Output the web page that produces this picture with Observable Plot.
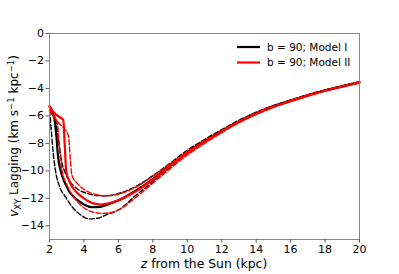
<!DOCTYPE html>
<html><head><meta charset="utf-8">
<script src="https://cdn.jsdelivr.net/npm/d3@7"></script>
<script src="https://cdn.jsdelivr.net/npm/@observablehq/plot@0.6"></script>
<style>body{margin:0;background:#fff}</style>
</head><body><div id="chart"></div>
<script>
const xTicks = [2,4,6,8,10,12,14,16,18,20];
const yTicks = [0,-2,-4,-6,-8,-10,-12,-14];
const legendLabels = ["b = 90; Model I", "b = 90; Model II"];

// Model I (black)
const zI   = [2.0,2.2,2.3,2.4,2.5,2.65,2.9,3.2,3.6,4.0,4.5,5.0,5.5,6.0,7.0,8.0,9.0,10,11,12,13,14,15,16,17,18,19,20];
const vI   = [-5.3,-5.9,-6.3,-7.5,-9.0,-10.0,-10.9,-11.6,-12.1,-12.45,-12.65,-12.6,-12.4,-12.15,-11.45,-10.6,-9.6,-8.65,-7.85,-7.1,-6.4,-5.8,-5.3,-4.9,-4.5,-4.15,-3.85,-3.55];
const zIlo = [2.0,2.1,2.2,2.35,2.6,2.93,3.3,3.8,4.3,4.8,5.3,6.0,7.0,8.0,9.0,10,11,12,13,14,15,16,17,18,19,20];
const vIlo = [-5.6,-7.0,-8.5,-10.0,-11.2,-11.9,-12.6,-13.2,-13.5,-13.45,-13.2,-12.85,-11.8,-10.8,-9.75,-8.75,-7.95,-7.15,-6.45,-5.85,-5.35,-4.92,-4.52,-4.17,-3.87,-3.57];
const zIhi = [2.0,2.2,2.35,2.5,2.7,2.9,3.2,3.6,4.2,4.8,5.3,6.0,7.0,8.0,9.0,10,11,12,13,14,15,16,17,18,19,20];
const vIhi = [-5.3,-5.7,-6.3,-7.5,-9.3,-10.1,-10.8,-11.3,-11.65,-11.8,-11.82,-11.65,-11.15,-10.35,-9.45,-8.5,-7.72,-7.0,-6.32,-5.73,-5.24,-4.84,-4.45,-4.1,-3.8,-3.5];
// Model II (red)
const zII   = [2.0,2.3,2.6,2.8,2.88,2.97,3.2,3.6,4.0,4.5,5.0,5.5,6.0,7.0,8.0,9.0,10,11,12,13,14,15,16,17,18,19,20];
const vII   = [-5.3,-5.8,-6.1,-6.3,-8.0,-10.0,-10.9,-11.6,-12.0,-12.35,-12.45,-12.35,-12.15,-11.5,-10.65,-9.65,-8.7,-7.9,-7.15,-6.45,-5.85,-5.33,-4.92,-4.52,-4.17,-3.86,-3.56];
const zIIhi = [2.0,2.3,2.6,2.9,3.1,3.2,3.3,3.6,4.0,4.6,5.2,5.6,6.0,7.0,8.0,9.0,10,11,12,13,14,15,16,17,18,19,20];
const vIIhi = [-5.6,-6.2,-6.6,-7.0,-7.45,-9.0,-10.3,-10.9,-11.35,-11.7,-11.82,-11.8,-11.7,-11.2,-10.4,-9.5,-8.6,-7.8,-7.07,-6.38,-5.78,-5.28,-4.88,-4.48,-4.13,-3.83,-3.53];
const zIIlo = [2.0,2.2,2.45,2.55,2.73,3.0,3.4,3.9,4.5,5.0,5.5,6.0,7.0,8.0,9.0,10,11,12,13,14,15,16,17,18,19,20];
const vIIlo = [-5.4,-5.9,-6.4,-8.0,-10.0,-11.0,-11.9,-12.6,-13.0,-13.1,-13.05,-12.85,-11.95,-10.9,-9.85,-8.85,-8.0,-7.22,-6.5,-5.9,-5.38,-4.96,-4.56,-4.2,-3.9,-3.6];

const series = [
  {key:"Ilo", z:zIlo, v:vIlo, color:"black", dash:true},
  {key:"Ihi", z:zIhi, v:vIhi, color:"black", dash:true},
  {key:"I",   z:zI,   v:vI,   color:"black", dash:false},
  {key:"IIlo",z:zIIlo,v:vIIlo,color:"red",   dash:true},
  {key:"IIhi",z:zIIhi,v:vIIhi,color:"red",   dash:true},
  {key:"II",  z:zII,  v:vII,  color:"red",   dash:false}
];

const lineMarks = series.map(s => {
  const rows = s.z.map((z,i)=>({z, v:s.v[i]}));
  return Plot.line(rows, {x:"z", y:"v", stroke:s.color,
    strokeWidth: s.dash ? 1.4 : 2.2,
    strokeDasharray: s.dash ? "5,2.2" : null,
    curve:"monotone-x"});
});

const legendRows = legendLabels.map((label,i)=>({label, i, color: i===0 ? "black" : "red"}));

const fmt = d => d < 0 ? "\u2212" + (-d) : String(d);

const plot = Plot.plot({
  width: 399, height: 274,
  marginLeft: 49, marginRight: 40, marginTop: 33, marginBottom: 35,
  style: {fontFamily: "DejaVu Sans", fontSize: "11px", color: "black", background: "white"},
  x: {domain:[2,20], ticks: xTicks},
  y: {domain:[-15,0], ticks: yTicks},
  marks: [
    ...lineMarks,
    Plot.frame({stroke:"#888", strokeWidth:1}),
    Plot.axisX({ticks:xTicks, tickSize:3.5, tickPadding:2, tickFormat:fmt, label:null, stroke:"#555", fontSize:11}),
    Plot.axisY({ticks:yTicks, tickSize:3.5, tickPadding:2, tickFormat:fmt, label:null, stroke:"#555", fontSize:11})
  ]
});

const svg = d3.select(plot);
// legend
const lg = svg.append("g").attr("font-family","DejaVu Sans").attr("font-size","10.5px").attr("text-anchor","start");
legendRows.forEach(r => {
  const y = 47 + r.i*15.5;
  lg.append("line").attr("x1",237).attr("x2",260).attr("y1",y).attr("y2",y)
    .attr("stroke",r.color).attr("stroke-width",2.2);
  lg.append("text").attr("x",267).attr("y",y).attr("dy","0.35em").attr("text-anchor","start").attr("fill","black").text(r.label);
});
// x label
const xl = svg.append("text").attr("x",204).attr("y",268).attr("text-anchor","middle")
  .attr("font-family","DejaVu Sans").attr("font-size","12.4px").attr("fill","black");
xl.append("tspan").attr("font-style","italic").text("z");
xl.append("tspan").text(" from the Sun (kpc)");
// y label
const yl = svg.append("text").attr("transform","translate(18,136) rotate(-90)").attr("text-anchor","middle")
  .attr("font-family","DejaVu Sans").attr("font-size","12px").attr("fill","black");
yl.append("tspan").attr("font-style","italic").text("v");
yl.append("tspan").attr("font-size","8.5px").attr("dy","3").text("XY");
yl.append("tspan").attr("dy","-3").text(" Lagging (km s");
yl.append("tspan").attr("font-size","8.5px").attr("dy","-4.5").text("\u22121");
yl.append("tspan").attr("dy","4.5").text(" kpc");
yl.append("tspan").attr("font-size","8.5px").attr("dy","-4.5").text("\u22121");
yl.append("tspan").attr("dy","4.5").text(")");

document.getElementById("chart").appendChild(plot);
</script>
</body></html>
